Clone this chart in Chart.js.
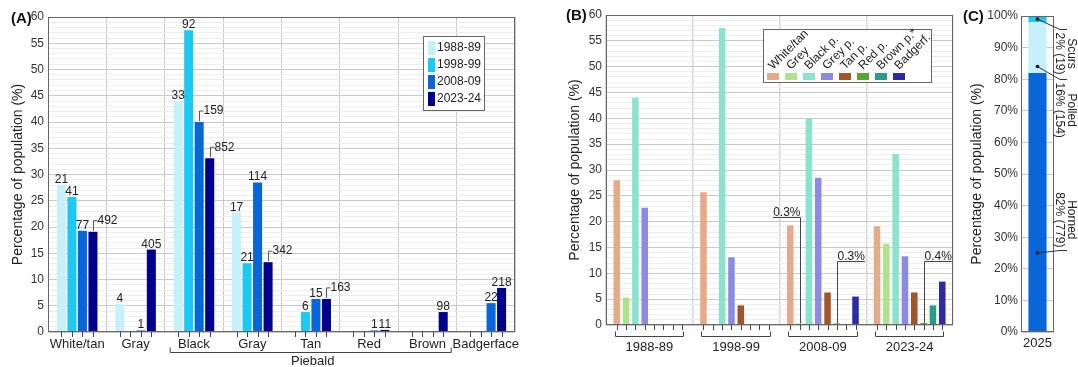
<!DOCTYPE html>
<html>
<head>
<meta charset="utf-8">
<script src="https://cdn.jsdelivr.net/npm/chart.js@4.4.1/dist/chart.umd.min.js"></script>
<style>
  html, body { margin: 0; padding: 0; background: #fff; }
  body { position: relative; width: 1078px; height: 367px; overflow: hidden; }
  canvas { position: absolute; top: 0; }
  #chartA { left: 0; }
  #chartB { left: 540px; }
  #chartC { left: 945px; }
</style>
</head>
<body>
<canvas id="chartA" width="530" height="367"></canvas>
<canvas id="chartB" width="420" height="367"></canvas>
<canvas id="chartC" width="133" height="367"></canvas>
<script>
// ---- data ----
const periods = ['1988-89', '1998-99', '2008-09', '2023-24'];
const colourCats = ['White/tan', 'Gray', 'Black', 'Gray', 'Tan', 'Red', 'Brown', 'Badgerface'];
const colourCatsB = ['White/tan', 'Grey', 'Black p.', 'Grey p.', 'Tan p.', 'Red p.', 'Brown p.*', 'Badgerf.'];

// percentage of population per colour, one array per period
const pct1988 = [28.0, 5.3, 44.0, 22.7, 0, 0, 0, 0];
const pct1998 = [25.7, 0, 57.5, 13.1, 3.8, 0, 0, 0];
const pct2008 = [19.3, 0.3, 40.0, 28.5, 6.3, 0.3, 0, 5.5];
const pct2023 = [19.1, 15.7, 33.1, 13.3, 6.3, 0.4, 3.8, 8.4];

// animal counts printed over the bars in (A)
const n1988 = [21, 4, 33, 17, null, null, null, null];
const n1998 = [41, null, 92, 21, 6, null, null, null];
const n2008 = [77, 1, 159, 114, 15, 1, null, 22];
const n2023 = [492, 405, 852, 342, 163, 11, 98, 218];
// counts that get a small leader line (period index - category index)
const leaderA = ['3-0', '2-2', '3-2', '3-3', '3-4'];

// horn status 2025 (C)
const hornCats = ['Horned', 'Polled', 'Scurs'];
const hornPct = [82, 16, 2];
const hornN = [779, 154, 19];

const pctA = [pct1988, pct1998, pct2008, pct2023];
const countsA = [n1988, n1998, n2008, n2023];

// small value notes in (B): colour index, period index, text, height of underline
const notesB = [
  { cat: 1, period: 2, text: '0.3%', at: 20.9, side: 'left' },
  { cat: 5, period: 2, text: '0.3%', at: 12.4, side: 'right' },
  { cat: 5, period: 3, text: '0.4%', at: 12.4, side: 'right' }
];

// ---- style ----
const family = "'Liberation Sans', Arial, sans-serif";
const periodColours = ['#c6f0fa', '#1cc9f2', '#0866d9', '#00008c'];
const colourColoursB = ['#e5aa88', '#ade38c', '#8ae3cf', '#8b8be3', '#a3552a', '#5aa62e', '#2a9d88', '#2b2ba6'];
const hornColours = ['#0866d9', '#c6f0fa', '#1cc9f2'];
// where the leader dot sits in each segment, and where the label hook is (axis values)
const hornDot = [25, 84, 99];
const hornHook = [26, 80, 96];
const hornTextAfterHook = [false, true, true];

const gridMinor = '#ededed';
const gridMajor = '#c9c9c9';
const frame = '#666';

Chart.defaults.font.family = family;
Chart.defaults.color = '#222';
Chart.defaults.animation = false;

function fixWidth(w) {
  return s => { s.width = w; s.paddingTop = 0; s.paddingBottom = 0; };
}
function fixHeight(h) {
  return s => { s.height = h; s.paddingLeft = 0; s.paddingRight = 0; };
}

function drawFrame(chart) {
  const { ctx, chartArea: a } = chart;
  ctx.strokeStyle = frame;
  ctx.lineWidth = 1;
  ctx.strokeRect(a.left + 0.5, a.top + 0.5, a.right - a.left - 1, a.bottom - a.top - 1);
}

function drawBarTicks(chart, len) {
  const { ctx, chartArea: a } = chart;
  ctx.strokeStyle = '#444';
  ctx.lineWidth = 1;
  chart.data.datasets.forEach((ds, i) => {
    chart.getDatasetMeta(i).data.forEach(bar => {
      const x = Math.round(bar.x) + 0.5;
      ctx.beginPath();
      ctx.moveTo(x, a.bottom);
      ctx.lineTo(x, a.bottom + len);
      ctx.stroke();
    });
  });
}

function panelTag(ctx, text, x, y) {
  ctx.font = 'bold 15px ' + family;
  ctx.fillStyle = '#111';
  ctx.textAlign = 'left';
  ctx.textBaseline = 'middle';
  ctx.fillText(text, x, y);
}

function yAxis(max, step, majorEvery, fmt, titlePad, width, tickPad) {
  return {
    min: 0,
    max: max,
    ticks: {
      stepSize: step,
      autoSkip: false,
      padding: tickPad,
      font: { size: 12 },
      color: '#333',
      callback: v => (v % majorEvery === 0 ? fmt(v) : '')
    },
    grid: {
      drawTicks: false,
      color: c => (c.tick.value % majorEvery === 0 ? gridMajor : gridMinor)
    },
    border: { display: false },
    title: {
      display: true,
      text: 'Percentage of population (%)',
      font: { size: 14 },
      color: '#222',
      padding: { top: titlePad, bottom: 0 }
    },
    afterFit: fixWidth(width)
  };
}

// ---- panel A ----
const panelA = {
  id: 'panelA',
  afterDraw(chart) {
    const { ctx } = chart;
    ctx.save();
    drawFrame(chart);
    drawBarTicks(chart, 5);

    // counts over bars
    ctx.font = '12px ' + family;
    ctx.fillStyle = '#222';
    ctx.strokeStyle = '#555';
    countsA.forEach((row, i) => {
      const meta = chart.getDatasetMeta(i);
      row.forEach((n, j) => {
        if (n === null) return;
        const bar = meta.data[j];
        if (leaderA.includes(i + '-' + j)) {
          const x = Math.round(bar.x) + 0.5;
          const top = bar.y - 11;
          ctx.beginPath();
          ctx.moveTo(x, bar.y - 1);
          ctx.lineTo(x, top);
          ctx.lineTo(x + 4, top);
          ctx.stroke();
          ctx.textAlign = 'left';
          ctx.textBaseline = 'middle';
          ctx.fillText(String(n), x + 4, top);
        } else {
          ctx.textAlign = 'center';
          ctx.textBaseline = 'alphabetic';
          ctx.fillText(String(n), bar.x, bar.y - 2);
        }
      });
    });

    // Piebald bracket (Black .. Brown)
    const first = chart.getDatasetMeta(0).data[2].x - 8;
    const last = chart.getDatasetMeta(3).data[6].x + 8;
    const by = 352.5;
    ctx.strokeStyle = '#444';
    ctx.beginPath();
    ctx.moveTo(first, by - 5);
    ctx.lineTo(first, by);
    ctx.lineTo(last, by);
    ctx.lineTo(last, by - 5);
    ctx.stroke();
    ctx.font = '13px ' + family;
    ctx.fillStyle = '#222';
    ctx.textAlign = 'center';
    ctx.textBaseline = 'middle';
    ctx.fillText('Piebald', (first + last) / 2 + 2, 361);

    // legend
    const lx = 423.5, ly = 36.5;
    ctx.fillStyle = '#fff';
    ctx.fillRect(lx, ly, 61, 74);
    ctx.strokeStyle = frame;
    ctx.strokeRect(lx, ly, 61, 74);
    ctx.font = '12px ' + family;
    ctx.textAlign = 'left';
    periods.forEach((p, i) => {
      const cy = 48 + i * 17;
      ctx.fillStyle = periodColours[i];
      ctx.fillRect(428, cy - 7, 7, 14);
      ctx.fillStyle = '#222';
      ctx.fillText(p, 437, cy);
    });

    panelTag(ctx, '(A)', 11, 19);
    ctx.restore();
  }
};

new Chart(document.getElementById('chartA'), {
  type: 'bar',
  data: {
    labels: colourCats,
    datasets: periods.map((p, i) => ({
      label: p,
      data: pctA[i],
      backgroundColor: periodColours[i],
      categoryPercentage: 0.72,
      barPercentage: 0.86
    }))
  },
  options: {
    responsive: false,
    layout: { padding: { left: 0, right: 15, top: 17, bottom: 0 } },
    plugins: { legend: { display: false }, tooltip: { enabled: false } },
    scales: {
      x: {
        grid: { color: gridMajor, drawTicks: false, offset: true },
        border: { display: false },
        ticks: { font: { size: 13 }, padding: 5, color: '#222', autoSkip: false, maxRotation: 0 },
        afterFit: fixHeight(35)
      },
      y: yAxis(60, 1, 5, v => v, 9.6, 48, 4)
    }
  },
  plugins: [panelA]
});

// ---- panel B ----
const panelB = {
  id: 'panelB',
  afterDraw(chart) {
    const { ctx, scales: { y } } = chart;
    ctx.save();
    drawFrame(chart);
    drawBarTicks(chart, 5);

    // brackets under each period
    const firstMeta = chart.getDatasetMeta(0);
    const lastMeta = chart.getDatasetMeta(colourCatsB.length - 1);
    ctx.strokeStyle = '#444';
    periods.forEach((p, j) => {
      const x1 = Math.round(firstMeta.data[j].x - 2) + 0.5;
      const x2 = Math.round(lastMeta.data[j].x + 1) + 0.5;
      const by = 336.5;
      ctx.beginPath();
      ctx.moveTo(x1, by - 5);
      ctx.lineTo(x1, by);
      ctx.lineTo(x2, by);
      ctx.lineTo(x2, by - 5);
      ctx.stroke();
    });

    // notes for tiny bars
    ctx.font = '12px ' + family;
    ctx.fillStyle = '#222';
    ctx.strokeStyle = '#444';
    notesB.forEach(n => {
      const bar = chart.getDatasetMeta(n.cat).data[n.period];
      const x = Math.round(bar.x) + 0.5;
      const uy = Math.round(y.getPixelForValue(n.at)) + 0.5;
      const w = ctx.measureText(n.text).width;
      const x0 = n.side === 'left' ? x - w : x;
      ctx.beginPath();
      ctx.moveTo(x0, uy);
      ctx.lineTo(x0 + w, uy);
      ctx.stroke();
      ctx.beginPath();
      ctx.moveTo(x, uy);
      ctx.lineTo(x, bar.y);
      ctx.stroke();
      ctx.textAlign = 'left';
      ctx.textBaseline = 'alphabetic';
      ctx.fillText(n.text, x0, uy - 2);
    });

    // legend with slanted names
    const lx = 223.5, ly = 29.5;
    ctx.fillStyle = '#fff';
    ctx.fillRect(lx, ly, 168, 53);
    ctx.strokeStyle = frame;
    ctx.strokeRect(lx, ly, 168, 53);
    colourCatsB.forEach((name, k) => {
      const sx = 227 + k * 18;
      ctx.fillStyle = colourColoursB[k];
      ctx.fillRect(sx, 73, 12, 7);
      ctx.save();
      ctx.translate(sx + 6, 70);
      ctx.rotate(-Math.PI / 4);
      ctx.fillStyle = '#222';
      ctx.textAlign = 'left';
      ctx.textBaseline = 'alphabetic';
      ctx.fillText(name, 0, 0);
      ctx.restore();
    });

    panelTag(ctx, '(B)', 26, 16);
    ctx.restore();
  }
};

new Chart(document.getElementById('chartB'), {
  type: 'bar',
  data: {
    labels: periods,
    datasets: colourCatsB.map((name, k) => ({
      label: name,
      data: pctA.map(row => row[k]),
      backgroundColor: colourColoursB[k],
      categoryPercentage: 0.86,
      barPercentage: 0.7
    }))
  },
  options: {
    responsive: false,
    layout: { padding: { left: 0, right: 7, top: 15, bottom: 0 } },
    plugins: { legend: { display: false }, tooltip: { enabled: false } },
    scales: {
      x: {
        grid: { color: '#d6d6d6', lineWidth: 1.5, drawTicks: false, offset: true },
        border: { display: false },
        ticks: { font: { size: 13 }, padding: 15, color: '#222', autoSkip: false, maxRotation: 0 },
        afterFit: fixHeight(42)
      },
      y: yAxis(60, 1, 5, v => v, 26.6, 66, 4)
    }
  },
  plugins: [panelB]
});

// ---- panel C ----
const panelC = {
  id: 'panelC',
  afterDraw(chart) {
    const { ctx, chartArea: a, scales: { y } } = chart;
    ctx.save();
    drawFrame(chart);
    ctx.font = '12px ' + family;
    ctx.lineWidth = 1;
    hornCats.forEach((name, i) => {
      const bar = chart.getDatasetMeta(i).data[0];
      const dx = bar.x;
      const dy = y.getPixelForValue(hornDot[i]);
      const hy = Math.round(y.getPixelForValue(hornHook[i])) + 0.5;
      ctx.fillStyle = '#111';
      ctx.strokeStyle = '#333';
      ctx.beginPath();
      ctx.arc(dx, dy, 1.8, 0, Math.PI * 2);
      ctx.fill();
      ctx.beginPath();
      ctx.moveTo(dx, dy);
      ctx.lineTo(a.right + 6, hy);
      ctx.lineTo(a.right + 13, hy);
      ctx.stroke();

      const line2 = hornPct[i] + '% (' + hornN[i] + ')';
      const w = Math.max(ctx.measureText(name).width, ctx.measureText(line2).width);
      const my = hornTextAfterHook[i] ? hy + 3 + w / 2 : hy - 3 - w / 2;
      ctx.save();
      ctx.translate(a.right + 11.5, my);
      ctx.rotate(Math.PI / 2);
      ctx.fillStyle = '#222';
      ctx.textAlign = 'center';
      ctx.textBaseline = 'middle';
      ctx.fillText(name, 0, -5.5);
      ctx.fillText(line2, 0, 6);
      ctx.restore();
    });
    panelTag(ctx, '(C)', 18, 17);
    ctx.restore();
  }
};

new Chart(document.getElementById('chartC'), {
  type: 'bar',
  data: {
    labels: ['2025'],
    datasets: hornCats.map((name, i) => ({
      label: name,
      data: [hornPct[i]],
      backgroundColor: hornColours[i],
      categoryPercentage: 1,
      barPercentage: 0.55
    }))
  },
  options: {
    responsive: false,
    layout: { padding: { left: 0, right: 24, top: 16, bottom: 0 } },
    plugins: { legend: { display: false }, tooltip: { enabled: false } },
    scales: {
      x: {
        stacked: true,
        grid: { display: false, drawTicks: false },
        border: { display: false },
        ticks: { font: { size: 13 }, padding: 4, color: '#222' },
        afterFit: fixHeight(35)
      },
      y: Object.assign(yAxis(100, 10, 10, v => v + '%', 23.6, 76, 3), { stacked: true })
    }
  },
  plugins: [panelC]
});
</script>
</body>
</html>
